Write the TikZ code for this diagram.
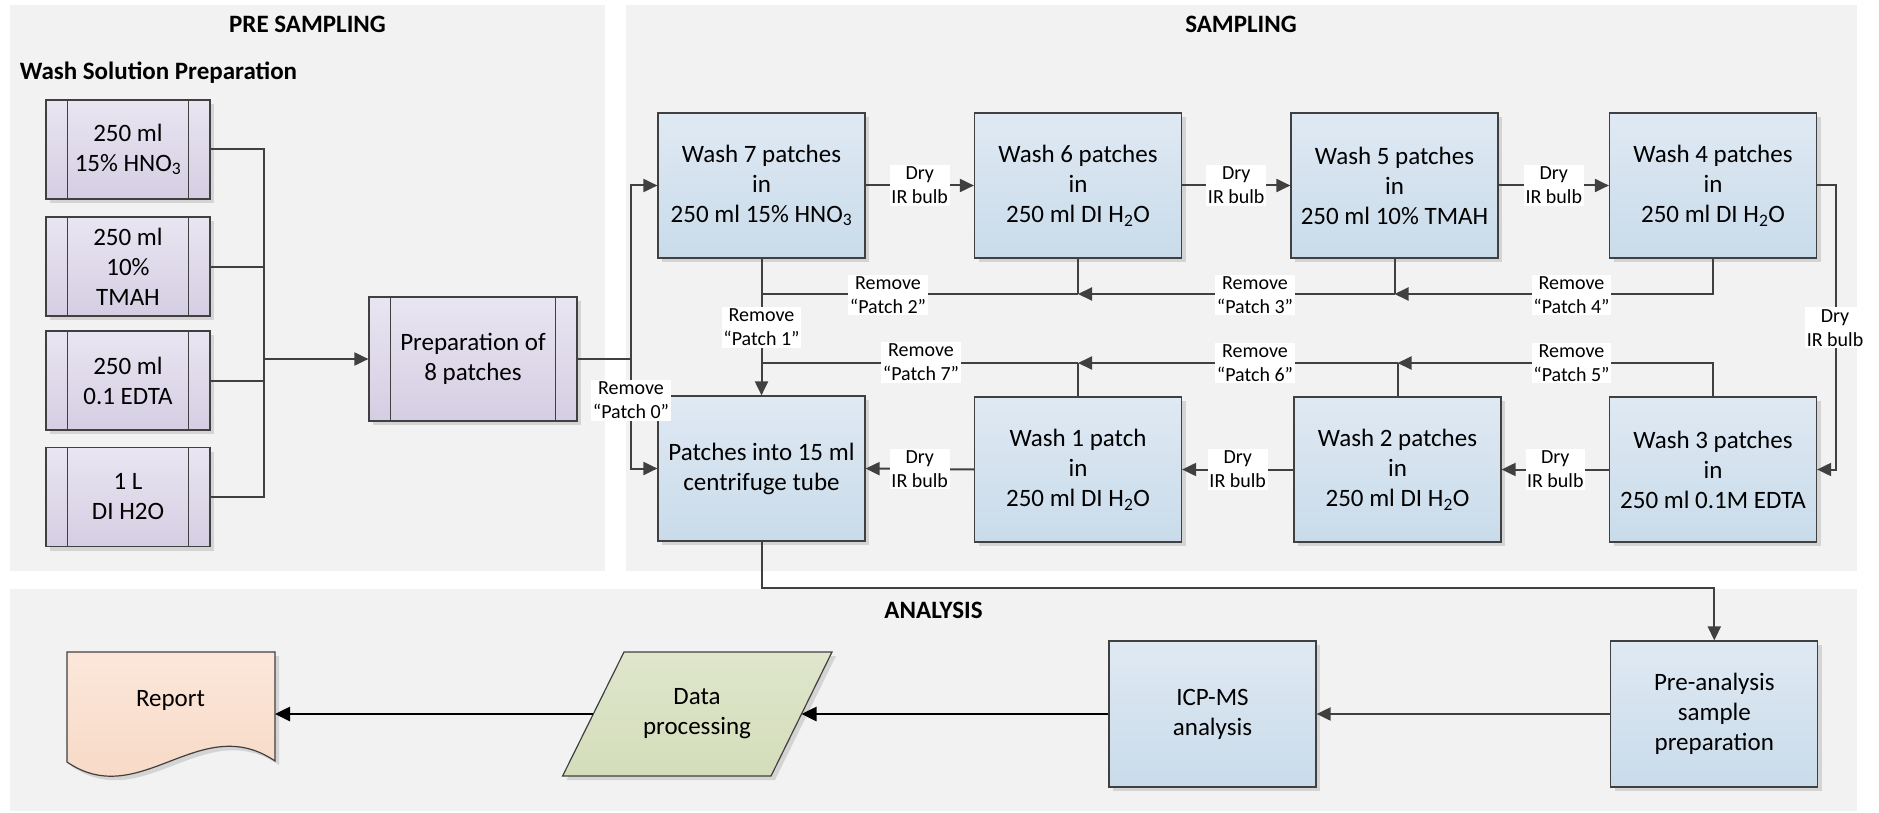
\documentclass[tikz,border=0pt]{standalone}
\usepackage{fontspec}
\setmainfont{Carlito}
\usetikzlibrary{arrows.meta,shadows}

\definecolor{panel}{HTML}{F2F2F2}
\definecolor{edge}{HTML}{404040}
\definecolor{blueTop}{HTML}{DFE9F3}
\definecolor{blueBot}{HTML}{C9DBEA}
\definecolor{lilacTop}{HTML}{E9E5F1}
\definecolor{lilacBot}{HTML}{D5CEE3}
\definecolor{peachTop}{HTML}{FBE7DA}
\definecolor{peachBot}{HTML}{F7D6C1}
\definecolor{sageTop}{HTML}{DFE6CC}
\definecolor{sageBot}{HTML}{D4DDBA}

\newcommand\boxsize{\fontsize{25}{30}\selectfont}
\newcommand\lblsize{\fontsize{20}{24}\selectfont}

\tikzset{
  shadowed/.style={drop shadow={shadow xshift=4pt,shadow yshift=-4pt,fill=black,opacity=0.12}},
  block/.style={rectangle, draw=edge, line width=1.2pt, minimum width=207, minimum height=145,
    inner sep=0pt, align=center, font=\boxsize, top color=blueTop, bottom color=blueBot, shadowed},
  solution/.style={block, minimum width=164, minimum height=99, top color=lilacTop, bottom color=lilacBot,
    path picture={\draw[edge,line width=1.2pt]
      ([xshift=21.5pt]path picture bounding box.north west) -- ([xshift=21.5pt]path picture bounding box.south west)
      ([xshift=-21.5pt]path picture bounding box.north east) -- ([xshift=-21.5pt]path picture bounding box.south east);}},
  link/.style={draw=edge, line width=2pt},
  arr/.style={link, -{Triangle[length=14pt,width=13pt]}},
  blk/.style={draw=black, line width=2.6pt, -{Triangle[length=15pt,width=14pt]}},
  lbl/.style={fill=white, inner xsep=1.5pt, inner ysep=2pt, align=center, font=\lblsize},
  heading/.style={font=\bfseries\boxsize},
  shapetext/.style={font=\boxsize, align=center},
}

\begin{document}
\begin{tikzpicture}[x=1pt,y=-1pt,line join=miter]
\useasboundingbox (0,0) rectangle (1879,813);
\fill[white] (0,0) rectangle (1879,813);

% background panels
\fill[panel] (10,5) rectangle (605,570.7);
\fill[panel] (625.5,5) rectangle (1857,570.7);
\fill[panel] (10,589) rectangle (1857,811);

% headings
\node[heading] (tPre) at (307.5,24) {PRE SAMPLING};
\node[heading] (tSam) at (1241,24) {SAMPLING};
\node[heading] (tAna) at (933.5,610) {ANALYSIS};
\node[heading, anchor=west, inner sep=0pt] (tWash) at (19.6,73) {Wash Solution Preparation};

% wash solutions and patch preparation
\node[solution] (sol1) at (128,149.5) {250 ml\\15\% HNO\textsubscript{3}};
\node[solution] (sol2) at (128,266.5) {250 ml\\10\%\\TMAH};
\node[solution] (sol3) at (128,380.5) {250 ml\\0.1 EDTA};
\node[solution] (sol4) at (128,497) {1 L\\DI H2O};
\node[solution, minimum width=208, minimum height=124] (prep) at (473,359) {Preparation of\\8 patches};

% washing sequence
\node[block] (w7) at (761.5,185.5) {Wash 7 patches\\in\\250 ml 15\% HNO\textsubscript{3}};
\node[block] (w6) at (1078,185.5) {Wash 6 patches\\in\\250 ml DI H\textsubscript{2}O};
\node[block] (w5) at (1394.5,185.5) {Wash 5 patches\\in\\250 ml 10\% TMAH};
\node[block] (w4) at (1713,185.5) {Wash 4 patches\\in\\250 ml DI H\textsubscript{2}O};
\node[block] (tube) at (761.5,468.5) {Patches into 15 ml\\centrifuge tube};
\node[block] (w1) at (1078,469.5) {Wash 1 patch\\in\\250 ml DI H\textsubscript{2}O};
\node[block] (w2) at (1397.5,469.5) {Wash 2 patches\\in\\250 ml DI H\textsubscript{2}O};
\node[block] (w3) at (1713,469.5) {Wash 3 patches\\in\\250 ml 0.1M EDTA};

% analysis
\node[block, minimum height=146] (pre) at (1714.3,714) {Pre-analysis\\sample\\preparation};
\node[block, minimum height=146] (icp) at (1212.5,714) {ICP-MS\\analysis};

\coordinate (dpTL) at (624,652);
\coordinate (dpTR) at (832,652);
\coordinate (dpBR) at (771,776);
\coordinate (dpBL) at (562.6,776);
\path[draw=edge, line width=1.2pt, top color=sageTop, bottom color=sageBot, shadowed]
  (dpTL) -- (dpTR) -- (dpBR) -- (dpBL) -- cycle;
\node[shapetext] (data) at (697,714) {Data\\processing};
\coordinate (dpE) at (801.5,714);
\coordinate (dpW) at (593.3,714);

\path[draw=edge, line width=1.2pt, top color=peachTop, bottom color=peachBot, shadowed]
  (67,652) -- (275,652) -- (275,761) .. controls (200,710) and (140,812) .. (67,762) -- cycle;
\node[shapetext] (report) at (170.5,700) {Report};
\coordinate (repE) at (275,714);

% solutions feed the patch preparation
\coordinate (bus) at (264,359);
\draw[link] (sol1.east) -| (bus);
\draw[link] (sol4.east) -| (bus);
\draw[link] (sol2.east) -- (sol2.east -| bus);
\draw[link] (sol3.east) -- (sol3.east -| bus);
\draw[arr] (bus) -- (prep.west);

\coordinate (split) at (630.7,359);
\draw[link] (prep.east) -- (split);
\draw[arr] (split) |- (w7.west);
\draw[arr] (split) |- (tube.west);

% drying steps
\draw[arr] (w7.east) -- node[lbl] (d76) {Dry\\IR bulb} (w6.west);
\draw[arr] (w6.east) -- node[lbl] (d65) {Dry\\IR bulb} (w5.west);
\draw[arr] (w5.east) -- node[lbl] (d54) {Dry\\IR bulb} (w4.west);
\draw[arr] (w4.east) -- ++(18.5,0) |- (w3.east);
\draw[arr] (w3.west) -- node[lbl] (d32) {Dry\\IR bulb} (w2.east);
\draw[arr] (w2.west) -- node[lbl] (d21) {Dry\\IR bulb} (w1.east);
\draw[arr] (w1.west) -- node[lbl] (d1t) {Dry\\IR bulb} (tube.east);

% removed patches, upper return line
\coordinate (j5) at (1394.5,294);
\coordinate (j6) at (1078,294);
\coordinate (j7) at (761.5,294);
\draw[arr] (w4.south) |- (j5);
\draw[link] (w5.south) -- (j5);
\draw[arr] (j5) -- (j6);
\draw[link] (w6.south) -- (j6);
\draw[link] (j6) -- (j7);
\draw[arr] (w7.south) -- (tube.north);

% removed patches, lower return line
\coordinate (k2) at (1397.5,363);
\coordinate (k1) at (1078,363);
\coordinate (k7) at (761.5,363);
\draw[arr] (w3.north) |- (k2);
\draw[link] (w2.north) -- (k2);
\draw[arr] (k2) -- (k1);
\draw[link] (w1.north) -- (k1);
\draw[link] (k1) -- (k7);

% analysis chain
\draw[arr] (tube.south) -- ++(0,46.7) -| (pre.north);
\draw[arr] (pre.west) -- (icp.east);
\draw[blk] (icp.west) -- (dpE);
\draw[blk] (dpW) -- (repE);

% connector labels
\node[lbl] (rm0) at (631,400.5) {Remove\\“Patch 0”};
\node[lbl] (rm1) at (761.5,327.5) {Remove\\“Patch 1”};
\node[lbl] (rm2) at (888,295) {Remove\\“Patch 2”};
\node[lbl] (rm3) at (1255,295) {Remove\\“Patch 3”};
\node[lbl] (rm4) at (1571.5,295) {Remove\\“Patch 4”};
\node[lbl] (rm5) at (1571.5,363) {Remove\\“Patch 5”};
\node[lbl] (rm6) at (1255,363) {Remove\\“Patch 6”};
\node[lbl] (rm7) at (921,362.5) {Remove\\“Patch 7”};
\node[lbl] (d43) at (1835,327.7) {Dry\\IR bulb};
\end{tikzpicture}
\end{document}
